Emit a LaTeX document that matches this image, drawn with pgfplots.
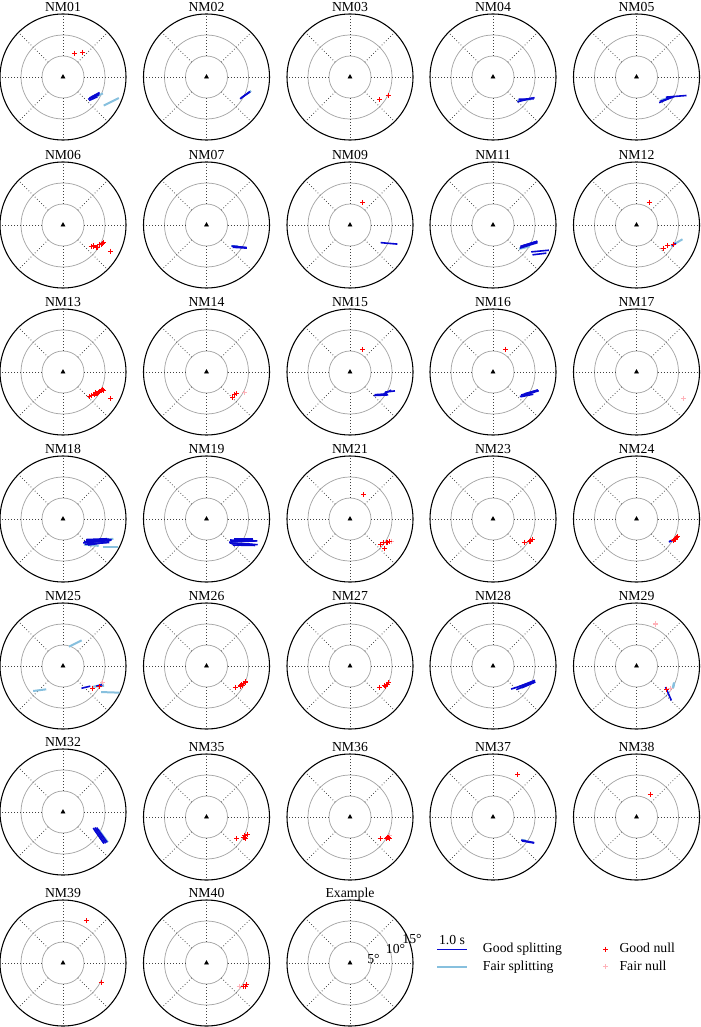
\documentclass[border=0pt]{standalone}
\usepackage{fontspec}
\setmainfont{Liberation Serif}
\usepackage{pgfplots}
\pgfplotsset{compat=1.18}

\definecolor{goodsplit}{RGB}{8,8,210}
\definecolor{fairsplit}{RGB}{135,192,222}
\definecolor{goodnull}{RGB}{255,0,0}
\definecolor{fairnull}{RGB}{255,178,185}
\definecolor{ringgray}{RGB}{165,165,165}

\newcommand\labfont{\fontsize{10.3}{12}\selectfont}

% one station frame: rings at 5, 10, 15 deg and dotted spokes
\newcommand\stframe[2]{%
  \begin{scope}[shift={(#1*0.75pt,-#2*0.75pt)}]
    \draw[draw=ringgray, line width=0.55pt] (0,0) circle[radius=15.75pt] (0,0) circle[radius=31.5pt];
    \draw[draw=black, line width=0.8pt] (0,0) circle[radius=47.25pt];
    \foreach \a in {0,45,...,315}
      \draw[draw=black!75, line width=0.55pt, dash pattern=on 0.55pt off 1.7pt] (\a:15.75pt) -- (\a:47.25pt);
  \end{scope}}

\pgfplotsset{
  stereo/.style={anchor=center, x=3.15pt, y=3.15pt,
    xmin=-15, xmax=15, ymin=-15, ymax=15, hide axis, clip=false},
  pos/.style 2 args={at={(#1*0.75pt,-#2*0.75pt)}},
  good/.style={quiver={u=\thisrow{u},v=\thisrow{v}}, draw=goodsplit, line width=1.2pt},
  fair/.style={quiver={u=\thisrow{u},v=\thisrow{v}}, draw=fairsplit, line width=1.5pt},
  gnull/.style={only marks, mark=+, mark size=1.9pt, draw=goodnull,
    mark options={draw=goodnull, line width=0.8pt}},
  fnull/.style={only marks, mark=+, mark size=1.9pt, draw=fairnull,
    mark options={draw=fairnull, line width=0.8pt}},
  sta/.style={only marks, mark=triangle*, mark size=1.7pt, draw=black, fill=black,
    mark options={draw=black, fill=black}},
}

\begin{document}
\begin{tikzpicture}
\path[use as bounding box] (0,0) rectangle (525pt,-770.25pt);

\foreach \cx/\cy in {63/77, 206.5/77, 350/77, 493/77, 636.5/77,
  63/225, 206.5/225, 350/225, 493/225, 636.5/225,
  63/372, 206.5/372, 350/372, 493/372, 636.5/372,
  63/519, 206.5/519, 350/519, 493/519, 636.5/519,
  63/666, 206.5/666, 350/666, 493/666, 636.5/666,
  63/812, 206.5/817, 350/817, 493/817, 636.5/817,
  63/963, 206.5/963, 350/963}
  {\stframe{\cx}{\cy}}

% ---------------- row 1
\begin{axis}[stereo, pos={63}{77}]
  \addplot[fair] table[row sep=\\]{x y u v\\ 9.7 -6.8 3.6 1.8\\ 8.1 -4.6 1.4 0.7\\};
  \addplot[good] table[row sep=\\]{x y u v\\ 6.0 -5.3 2.6 1.1\\ 6.3 -5.0 2.4 1.3\\ 6.8 -4.8 1.9 0.9\\ 6.2 -5.6 2.0 0.9\\};
  \addplot[gnull] coordinates {(2.8,5.7) (4.6,5.9)};
  \addplot[sta] coordinates {(0,0)};
\end{axis}
\begin{axis}[stereo, pos={206.5}{77}]
  \addplot[fair] table[row sep=\\]{x y u v\\ 9.8 -3.9 0.8 0.6\\};
  \addplot[good] table[row sep=\\]{x y u v\\ 8.0 -5.2 2.4 1.7\\ 8.2 -5.0 2.1 1.5\\};
  \addplot[sta] coordinates {(0,0)};
\end{axis}
\begin{axis}[stereo, pos={350}{77}]
  \addplot[gnull] coordinates {(7.1,-5.45) (9.1,-4.4)};
  \addplot[sta] coordinates {(0,0)};
\end{axis}
\begin{axis}[stereo, pos={493}{77}]
  \addplot[fair] table[row sep=\\]{x y u v\\ 5.8 -5.6 3.2 0.3\\};
  \addplot[good] table[row sep=\\]{x y u v\\ 5.8 -5.9 4.1 1.0\\ 6.1 -5.3 3.6 0.1\\ 6.4 -5.6 3.0 0.6\\};
  \addplot[sta] coordinates {(0,0)};
\end{axis}
\begin{axis}[stereo, pos={636.5}{77}]
  \addplot[fair] table[row sep=\\]{x y u v\\ 5.8 -5.5 3.0 0.8\\};
  \addplot[good] table[row sep=\\]{x y u v\\ 5.4 -6.1 3.6 1.5\\ 7.0 -4.8 4.9 0.4\\ 5.7 -5.8 3.0 1.1\\};
  \addplot[sta] coordinates {(0,0)};
\end{axis}

% ---------------- row 2
\begin{axis}[stereo, pos={63}{225}]
  \addplot[gnull] coordinates {(7.2,-5.0) (8.1,-5.3) (8.8,-4.6) (9.4,-4.4) (9.6,-4.1) (11.3,-6.2) (6.7,-5.2) (9.2,-4.7)};
  \addplot[sta] coordinates {(0,0)};
\end{axis}
\begin{axis}[stereo, pos={206.5}{225}]
  \addplot[fair] table[row sep=\\]{x y u v\\ 5.9 -5.1 1.5 0.0\\};
  \addplot[good] table[row sep=\\]{x y u v\\ 6.0 -5.0 3.6 -0.4\\ 6.2 -5.3 3.4 -0.2\\ 6.4 -5.1 3.2 -0.3\\};
  \addplot[sta] coordinates {(0,0)};
\end{axis}
\begin{axis}[stereo, pos={350}{225}]
  \addplot[good] table[row sep=\\]{x y u v\\ 7.3 -4.2 4.0 -0.35\\};
  \addplot[gnull] coordinates {(3.0,5.4)};
  \addplot[sta] coordinates {(0,0)};
\end{axis}
\begin{axis}[stereo, pos={493}{225}]
  \addplot[fair] table[row sep=\\]{x y u v\\ 6.2 -5.7 2.6 0.6\\};
  \addplot[good] table[row sep=\\]{x y u v\\ 6.4 -5.5 4.2 1.3\\ 6.6 -5.3 4.0 1.4\\ 6.9 -5.0 3.6 1.1\\ 6.5 -5.1 4.0 1.2\\ 9.1 -6.4 4.2 0.4\\ 9.4 -7.1 3.3 0.4\\};
  \addplot[sta] coordinates {(0,0)};
\end{axis}
\begin{axis}[stereo, pos={636.5}{225}]
  \addplot[fair] table[row sep=\\]{x y u v\\ 8.2 -5.0 2.75 1.6\\};
  \addplot[good] table[row sep=\\]{x y u v\\ 8.4 -4.9 1.0 0.5\\};
  \addplot[gnull] coordinates {(3.0,5.4) (6.4,-5.6) (7.4,-4.9) (8.8,-4.6)};
  \addplot[sta] coordinates {(0,0)};
\end{axis}

% ---------------- row 3
\begin{axis}[stereo, pos={63}{372}]
  \addplot[gnull] coordinates {(6.7,-5.6) (7.4,-5.3) (8.1,-5.2) (8.5,-4.8) (9.1,-4.5) (9.6,-4.3) (11.3,-6.4) (6.2,-5.8) (7.8,-5.0) (8.8,-4.6) (9.3,-4.2)};
  \addplot[sta] coordinates {(0,0)};
\end{axis}
\begin{axis}[stereo, pos={206.5}{372}]
  \addplot[fnull] coordinates {(9.1,-4.8)};
  \addplot[gnull] coordinates {(6.2,-6.0) (6.7,-5.45) (7.2,-5.2)};
  \addplot[sta] coordinates {(0,0)};
\end{axis}
\begin{axis}[stereo, pos={350}{372}]
  \addplot[good] table[row sep=\\]{x y u v\\ 5.7 -5.6 3.4 0.15\\ 5.9 -5.4 3.0 0.2\\ 8.3 -4.8 2.4 0.3\\ 8.0 -5.2 1.8 0.9\\};
  \addplot[gnull] coordinates {(3.0,5.4)};
  \addplot[sta] coordinates {(0,0)};
\end{axis}
\begin{axis}[stereo, pos={493}{372}]
  \addplot[good] table[row sep=\\]{x y u v\\ 6.4 -5.85 4.5 1.4\\ 6.7 -5.5 4.0 1.2\\ 7.5 -5.2 3.2 0.9\\ 6.6 -5.9 3.0 0.6\\};
  \addplot[gnull] coordinates {(3.0,5.4)};
  \addplot[sta] coordinates {(0,0)};
\end{axis}
\begin{axis}[stereo, pos={636.5}{372}]
  \addplot[fnull] coordinates {(11.2,-6.4)};
  \addplot[sta] coordinates {(0,0)};
\end{axis}

% ---------------- row 4
\begin{axis}[stereo, pos={63}{519}]
  \addplot[fair] table[row sep=\\]{x y u v\\ 5.0 -6.1 3.5 -0.3\\ 9.5 -6.65 3.6 0.0\\ 7.5 -5.3 4.5 0.6\\};
  \addplot[good] table[row sep=\\]{x y u v\\ 4.8 -5.7 6.5 0.6\\ 5.0 -5.4 6.6 0.5\\ 5.5 -5.1 5.5 0.3\\ 5.2 -6.0 5.8 0.4\\ 6.0 -6.2 5.0 0.8\\ 5.5 -4.9 5.0 0.2\\ 6.2 -5.6 5.3 0.6\\};
  \addplot[sta] coordinates {(0,0)};
\end{axis}
\begin{axis}[stereo, pos={206.5}{519}]
  \addplot[fair] table[row sep=\\]{x y u v\\ 7.0 -5.3 4.0 0.0\\};
  \addplot[good] table[row sep=\\]{x y u v\\ 5.4 -5.5 6.5 0.3\\ 5.6 -5.0 6.0 -0.2\\ 6.0 -5.9 6.2 -0.2\\ 5.8 -5.3 6.3 0.1\\ 6.3 -6.2 5.3 -0.1\\ 6.5 -4.8 4.5 0.0\\ 5.5 -5.7 5.5 -0.3\\};
  \addplot[sta] coordinates {(0,0)};
\end{axis}
\begin{axis}[stereo, pos={350}{519}]
  \addplot[fnull] coordinates {(9.8,-5.3)};
  \addplot[gnull] coordinates {(3.3,5.8) (7.3,-6.1) (8.0,-5.7) (8.8,-5.6) (9.4,-5.45) (8.3,-7.0)};
  \addplot[sta] coordinates {(0,0)};
\end{axis}
\begin{axis}[stereo, pos={493}{519}]
  \addplot[gnull] coordinates {(7.4,-5.6) (8.6,-5.45) (9.0,-5.1) (9.4,-4.8) (8.8,-5.3)};
  \addplot[sta] coordinates {(0,0)};
\end{axis}
\begin{axis}[stereo, pos={636.5}{519}]
  \addplot[good] table[row sep=\\]{x y u v\\ 7.7 -5.45 1.3 0.5\\ 7.9 -5.3 1.0 0.4\\};
  \addplot[gnull] coordinates {(9.0,-4.8) (9.5,-4.4) (8.7,-5.2) (9.3,-4.9) (9.7,-4.2)};
  \addplot[sta] coordinates {(0,0)};
\end{axis}

% ---------------- row 5
\begin{axis}[stereo, pos={63}{666}]
  \addplot[fair] table[row sep=\\]{x y u v\\ 1.43 4.6 3.0 1.5\\ -7.1 -5.95 3.1 0.4\\ 6.9 -5.0 2.8 0.6\\ 7.5 -4.9 2.3 0.2\\ 9.1 -6.2 4.4 -0.15\\};
  \addplot[good] table[row sep=\\]{x y u v\\ 4.4 -5.3 2.1 0.5\\ 7.9 -4.8 1.6 0.4\\};
  \addplot[fnull] coordinates {(9.5,-4.0)};
  \addplot[gnull] coordinates {(7.1,-5.3) (8.6,-4.8)};
  \addplot[sta] coordinates {(0,0)};
\end{axis}
\begin{axis}[stereo, pos={206.5}{666}]
  \addplot[gnull] coordinates {(6.9,-5.1) (8.0,-4.7) (8.4,-4.4) (8.8,-4.1) (9.2,-3.8) (8.6,-4.6) (8.2,-4.9)};
  \addplot[sta] coordinates {(0,0)};
\end{axis}
\begin{axis}[stereo, pos={350}{666}]
  \addplot[gnull] coordinates {(7.1,-5.1) (8.2,-4.7) (8.7,-4.4) (9.2,-4.0) (8.9,-4.3) (8.4,-4.9)};
  \addplot[sta] coordinates {(0,0)};
\end{axis}
\begin{axis}[stereo, pos={493}{666}]
  \addplot[fair] table[row sep=\\]{x y u v\\ 6.0 -5.3 1.8 0.6\\};
  \addplot[good] table[row sep=\\]{x y u v\\ 4.3 -5.5 4.0 1.3\\ 5.6 -5.6 4.3 1.8\\ 6.2 -4.9 3.8 1.5\\ 6.8 -5.2 3.3 1.4\\ 7.6 -4.6 2.3 1.0\\};
  \addplot[sta] coordinates {(0,0)};
\end{axis}
\begin{axis}[stereo, pos={636.5}{666}]
  \addplot[fair] table[row sep=\\]{x y u v\\ 8.6 -5.4 0.3 1.4\\ 8.8 -5.1 0.2 1.2\\};
  \addplot[good] table[row sep=\\]{x y u v\\ 6.9 -5.0 1.4 -3.2\\};
  \addplot[fnull] coordinates {(8.2,-5.4) (4.5,10.0)};
  \addplot[gnull] coordinates {(7.2,-5.7)};
  \addplot[sta] coordinates {(0,0)};
\end{axis}

% ---------------- row 6
\begin{axis}[stereo, pos={63}{812}]
  \addplot[fair] table[row sep=\\]{x y u v\\ 8.4 -4.1 2.3 -3.1\\};
  \addplot[good] table[row sep=\\]{x y u v\\ 7.2 -3.8 2.6 -3.7\\ 7.6 -3.7 2.6 -3.7\\ 8.0 -3.7 2.5 -3.5\\ 7.4 -4.1 2.3 -3.3\\};
  \addplot[sta] coordinates {(0,0)};
\end{axis}
\begin{axis}[stereo, pos={206.5}{817}]
  \addplot[gnull] coordinates {(7.2,-5.2) (8.8,-4.9) (9.1,-4.5) (9.7,-4.2) (9.3,-5.1) (9.0,-4.8)};
  \addplot[sta] coordinates {(0,0)};
\end{axis}
\begin{axis}[stereo, pos={350}{817}]
  \addplot[fnull] coordinates {(9.4,-4.5)};
  \addplot[gnull] coordinates {(7.2,-5.2) (8.7,-5.2) (9.1,-4.9) (9.3,-5.1) (8.9,-4.8)};
  \addplot[sta] coordinates {(0,0)};
\end{axis}
\begin{axis}[stereo, pos={493}{817}]
  \addplot[fair] table[row sep=\\]{x y u v\\ 6.8 -5.4 1.0 -0.2\\};
  \addplot[good] table[row sep=\\]{x y u v\\ 6.7 -5.5 3.1 -0.6\\ 6.9 -5.7 2.9 -0.5\\};
  \addplot[gnull] coordinates {(5.85,10.1)};
  \addplot[sta] coordinates {(0,0)};
\end{axis}
\begin{axis}[stereo, pos={636.5}{817}]
  \addplot[gnull] coordinates {(3.3,5.4)};
  \addplot[sta] coordinates {(0,0)};
\end{axis}

% ---------------- row 7
\begin{axis}[stereo, pos={63}{963}]
  \addplot[gnull] coordinates {(5.6,10.1) (9.15,-4.6)};
  \addplot[sta] coordinates {(0,0)};
\end{axis}
\begin{axis}[stereo, pos={206.5}{963}]
  \addplot[fnull] coordinates {(7.8,-5.6)};
  \addplot[gnull] coordinates {(8.8,-5.7) (9.6,-5.2) (9.2,-5.5)};
  \addplot[sta] coordinates {(0,0)};
\end{axis}
\begin{axis}[stereo, pos={350}{963}]
  \addplot[sta] coordinates {(0,0)};
\end{axis}

% ---------------- legend keys
\begin{scope}[x=0.75pt, y=-0.75pt]
  \draw[draw=goodsplit, line width=1.2pt] (437.3,949.3) -- (466.7,949.3);
  \draw[draw=fairsplit, line width=1.5pt] (437.3,966.7) -- (466.7,966.7);
  \draw[draw=goodnull, line width=0.8pt] (603.2,949.3) -- (608.2,949.3) (605.7,946.8) -- (605.7,951.8);
  \draw[draw=fairnull, line width=0.8pt] (603.2,966.7) -- (608.2,966.7) (605.7,964.2) -- (605.7,969.2);
\end{scope}

% ---------------- text
\begin{scope}[x=0.75pt, y=-0.75pt, font=\labfont]
  \foreach \cx/\cy/\nm in {63/77/NM01, 206.5/77/NM02, 350/77/NM03, 493/77/NM04, 636.5/77/NM05,
    63/225/NM06, 206.5/225/NM07, 350/225/NM09, 493/225/NM11, 636.5/225/NM12,
    63/372/NM13, 206.5/372/NM14, 350/372/NM15, 493/372/NM16, 636.5/372/NM17,
    63/519/NM18, 206.5/519/NM19, 350/519/NM21, 493/519/NM23, 636.5/519/NM24,
    63/666/NM25, 206.5/666/NM26, 350/666/NM27, 493/666/NM28, 636.5/666/NM29,
    63/812/NM32, 206.5/817/NM35, 350/817/NM36, 493/817/NM37, 636.5/817/NM38,
    63/963/NM39, 206.5/963/NM40, 350/963/Example}
    {\node[anchor=base, inner sep=0pt] at (\cx,\cy-65.7) {\nm};}
  \node[inner sep=0pt] at (373.5,958.8) {5°};
  \node[inner sep=0pt] at (395.5,949.4) {10°};
  \node[inner sep=0pt] at (412,939.0) {15°};
  \node[anchor=base, inner sep=0pt] at (452,944.3) {1.0 s};
  \node[anchor=base west, inner sep=0pt] at (482.7,952.7) {Good splitting};
  \node[anchor=base west, inner sep=0pt] at (482.7,970.3) {Fair splitting};
  \node[anchor=base west, inner sep=0pt] at (619.3,952.7) {Good null};
  \node[anchor=base west, inner sep=0pt] at (619.3,970.3) {Fair null};
\end{scope}
\end{tikzpicture}
\end{document}
